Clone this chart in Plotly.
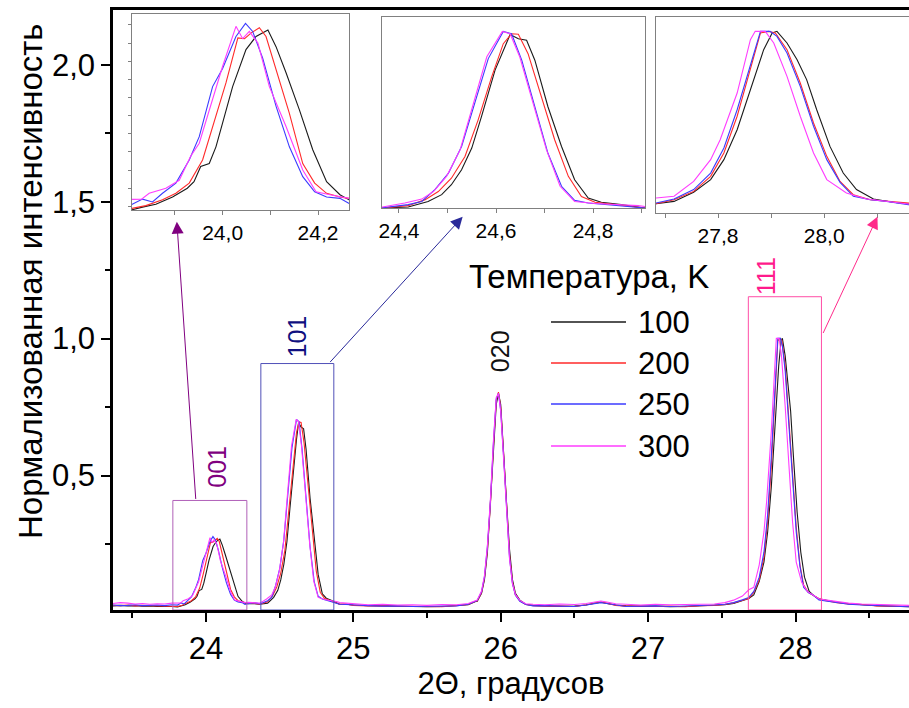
import plotly.graph_objects as go

# ---------------- data ----------------
temps = ["100", "200", "250", "300"]
colors = ["#1a1a1a", "#ff2a2a", "#3b3bff", "#ff3cff"]

# shared baseline x-grids
left_x = [23.37, 23.42, 23.47, 23.52, 23.57, 23.62, 23.67, 23.72, 23.77]
mid1_x = [24.29, 24.32, 24.345]
mid2_x = [24.95, 25.0, 25.1, 25.2, 25.3, 25.4, 25.5, 25.6, 25.7, 25.78, 25.83]
p020_x = [25.84, 25.87, 25.89, 25.91, 25.93, 25.95, 25.97, 25.985, 26.0, 26.02,
          26.04, 26.06, 26.08, 26.1, 26.13, 26.17]
mid3_x = [26.22, 26.3, 26.4, 26.5, 26.58, 26.64, 26.68, 26.72, 26.78, 26.85,
          26.95, 27.05, 27.15, 27.25, 27.35, 27.45, 27.52, 27.58, 27.64]
tail_x = [28.2, 28.28, 28.36, 28.45, 28.55, 28.65, 28.77]

# ---- 100 K ----
t100_left_y = [0.024, 0.026, 0.024, 0.025, 0.023, 0.024, 0.022, 0.023, 0.022]
t100_p001_x = [23.808, 23.832, 23.86, 23.895, 23.926, 23.94, 23.954, 23.972, 23.986, 24.0,
               24.021, 24.049, 24.07, 24.095, 24.112, 24.133, 24.161, 24.189, 24.218,
               24.246, 24.265]
t100_p001_y = [0.02, 0.024, 0.028, 0.038, 0.05, 0.059, 0.08, 0.084, 0.107, 0.14,
               0.19, 0.241, 0.259, 0.268, 0.245, 0.209, 0.158, 0.103, 0.059,
               0.041, 0.034]
t100_mid1_y = [0.032, 0.033, 0.031]
t100_p101_x = [24.366, 24.419, 24.46, 24.488, 24.508, 24.529, 24.55, 24.57, 24.598,
               24.615, 24.629, 24.646, 24.663, 24.68, 24.707, 24.735, 24.762, 24.79,
               24.817, 24.858, 24.907]
t100_p101_y = [0.03, 0.034, 0.055, 0.081, 0.119, 0.176, 0.259, 0.379, 0.557,
               0.633, 0.693, 0.677, 0.671, 0.595, 0.417, 0.265, 0.138, 0.068,
               0.052, 0.043, 0.03]
t100_mid2_y = [0.03, 0.027, 0.025, 0.024, 0.022, 0.023, 0.021, 0.022, 0.024, 0.028, 0.04]
t100_p020_y = [0.04, 0.07, 0.12, 0.22, 0.38, 0.58, 0.76, 0.80, 0.76, 0.6,
               0.4, 0.23, 0.12, 0.07, 0.045, 0.03]
t100_mid3_y = [0.026, 0.024, 0.022, 0.023, 0.027, 0.034, 0.037, 0.033, 0.027, 0.024,
               0.022, 0.023, 0.021, 0.022, 0.024, 0.025, 0.028, 0.033, 0.042]
t100_p111_x = [27.683, 27.717, 27.754, 27.786, 27.811, 27.836, 27.861, 27.886, 27.902,
               27.911, 27.93, 27.949, 27.967, 27.986, 28.011, 28.036, 28.061, 28.093,
               28.13, 28.159]
t100_p111_y = [0.051, 0.064, 0.114, 0.184, 0.294, 0.459, 0.68, 0.9, 0.992,
               1.001, 0.937, 0.845, 0.735, 0.569, 0.367, 0.22, 0.129, 0.077,
               0.059, 0.05]
t100_tail_y = [0.045, 0.037, 0.032, 0.028, 0.025, 0.023, 0.021]

# ---- 200 K ----
t200_left_y = [0.026, 0.025, 0.027, 0.024, 0.026, 0.025, 0.024, 0.025, 0.023]
t200_p001_x = [23.808, 23.839, 23.874, 23.902, 23.93, 23.958, 23.982, 24.007, 24.032,
               24.046, 24.06, 24.077, 24.091, 24.112, 24.14, 24.168, 24.193, 24.218,
               24.246, 24.265]
t200_p001_y = [0.022, 0.026, 0.034, 0.043, 0.057, 0.089, 0.14, 0.195, 0.257,
               0.256, 0.264, 0.271, 0.259, 0.213, 0.153, 0.084, 0.057, 0.043,
               0.038, 0.036]
t200_mid1_y = [0.034, 0.035, 0.033]
t200_p101_x = [24.366, 24.419, 24.454, 24.481, 24.508, 24.536, 24.563, 24.591, 24.615,
               24.632, 24.646, 24.666, 24.694, 24.721, 24.749, 24.776, 24.804, 24.845,
               24.907]
t200_p101_y = [0.03, 0.039, 0.062, 0.093, 0.144, 0.227, 0.366, 0.531, 0.658,
               0.696, 0.694, 0.62, 0.455, 0.29, 0.151, 0.074, 0.052, 0.043,
               0.03]
t200_mid2_y = [0.031, 0.026, 0.024, 0.025, 0.023, 0.022, 0.023, 0.021, 0.025, 0.029, 0.041]
t200_p020_y = [0.041, 0.072, 0.125, 0.23, 0.39, 0.6, 0.775, 0.805, 0.75, 0.58,
               0.38, 0.21, 0.11, 0.065, 0.042, 0.029]
t200_mid3_y = [0.025, 0.023, 0.024, 0.022, 0.028, 0.035, 0.038, 0.034, 0.026, 0.023,
               0.024, 0.022, 0.023, 0.021, 0.025, 0.026, 0.029, 0.035, 0.044]
t200_p111_x = [27.683, 27.717, 27.754, 27.786, 27.811, 27.836, 27.861, 27.88, 27.895,
               27.908, 27.93, 27.955, 27.98, 28.005, 28.03, 28.055, 28.087, 28.118,
               28.159]
t200_p111_y = [0.051, 0.073, 0.119, 0.202, 0.331, 0.533, 0.79, 0.992, 1.001,
               0.992, 0.9, 0.716, 0.496, 0.312, 0.174, 0.101, 0.073, 0.064,
               0.05]
t200_tail_y = [0.044, 0.036, 0.031, 0.029, 0.024, 0.022, 0.022]

# ---- 250 K ----
t250_left_y = [0.027, 0.025, 0.026, 0.028, 0.025, 0.026, 0.027, 0.025, 0.028]
t250_p001_x = [23.808, 23.832, 23.853, 23.874, 23.902, 23.93, 23.951, 23.979, 24.0,
               24.028, 24.048, 24.063, 24.084, 24.112, 24.14, 24.168, 24.193, 24.218,
               24.246, 24.265]
t250_p001_y = [0.027, 0.035, 0.031, 0.043, 0.057, 0.089, 0.121, 0.19, 0.215,
               0.259, 0.277, 0.266, 0.229, 0.163, 0.107, 0.066, 0.045, 0.038,
               0.036, 0.029]
t250_mid1_y = [0.033, 0.036, 0.034]
t250_p101_x = [24.366, 24.419, 24.447, 24.474, 24.502, 24.529, 24.556, 24.584, 24.615,
               24.632, 24.653, 24.68, 24.707, 24.735, 24.762, 24.79, 24.831, 24.907]
t250_p101_y = [0.031, 0.043, 0.055, 0.1, 0.163, 0.265, 0.43, 0.601, 0.705,
               0.696, 0.595, 0.417, 0.239, 0.113, 0.059, 0.049, 0.043, 0.03]
t250_mid2_y = [0.029, 0.027, 0.025, 0.023, 0.024, 0.022, 0.022, 0.023, 0.024, 0.03, 0.043]
t250_p020_y = [0.043, 0.075, 0.13, 0.24, 0.4, 0.61, 0.78, 0.80, 0.74, 0.57,
               0.37, 0.2, 0.105, 0.063, 0.041, 0.029]
t250_mid3_y = [0.024, 0.025, 0.023, 0.022, 0.027, 0.033, 0.036, 0.033, 0.027, 0.022,
               0.023, 0.024, 0.022, 0.023, 0.024, 0.027, 0.03, 0.036, 0.046]
t250_p111_x = [27.683, 27.717, 27.754, 27.786, 27.811, 27.836, 27.861, 27.88, 27.898,
               27.911, 27.93, 27.955, 27.98, 28.005, 28.03, 28.055, 28.087, 28.118,
               28.159]
t250_p111_y = [0.055, 0.077, 0.129, 0.22, 0.358, 0.569, 0.808, 1.001, 1.001,
               0.973, 0.882, 0.698, 0.478, 0.294, 0.169, 0.092, 0.073, 0.064,
               0.046]
t250_tail_y = [0.043, 0.035, 0.03, 0.027, 0.025, 0.022, 0.021]

# ---- 300 K ----
t300_left_y = [0.033, 0.036, 0.034, 0.031, 0.033, 0.03, 0.032, 0.031, 0.034]
t300_p001_x = [23.808, 23.83, 23.846, 23.881, 23.909, 23.933, 23.951, 23.975, 24.0,
               24.028, 24.042, 24.056, 24.074, 24.098, 24.133, 24.168, 24.196, 24.225,
               24.265]
t300_p001_y = [0.035, 0.035, 0.043, 0.05, 0.061, 0.094, 0.112, 0.163, 0.218,
               0.273, 0.256, 0.266, 0.25, 0.19, 0.135, 0.075, 0.045, 0.041,
               0.036]
t300_mid1_y = [0.037, 0.035, 0.036]
t300_p101_x = [24.366, 24.412, 24.447, 24.471, 24.498, 24.526, 24.553, 24.581, 24.613,
               24.629, 24.649, 24.677, 24.704, 24.732, 24.762, 24.804, 24.858, 24.893,
               24.907]
t300_p101_y = [0.034, 0.049, 0.064, 0.093, 0.151, 0.252, 0.43, 0.608, 0.705,
               0.696, 0.607, 0.43, 0.252, 0.113, 0.055, 0.047, 0.043, 0.039,
               0.036]
t300_mid2_y = [0.034, 0.031, 0.028, 0.03, 0.027, 0.028, 0.026, 0.029, 0.028, 0.033, 0.045]
t300_p020_y = [0.045, 0.078, 0.135, 0.245, 0.41, 0.62, 0.785, 0.80, 0.735, 0.56,
               0.36, 0.195, 0.105, 0.065, 0.044, 0.032]
t300_mid3_y = [0.03, 0.028, 0.031, 0.029, 0.033, 0.038, 0.042, 0.038, 0.032, 0.03,
               0.027, 0.03, 0.028, 0.029, 0.03, 0.031, 0.036, 0.045, 0.06]
t300_p111_x = [27.683, 27.717, 27.754, 27.786, 27.804, 27.836, 27.861, 27.87, 27.889,
               27.905, 27.93, 27.955, 27.98, 28.005, 28.042, 28.08, 28.118, 28.159]
t300_p111_y = [0.083, 0.092, 0.174, 0.294, 0.404, 0.661, 0.955, 1.001, 1.001,
               0.937, 0.753, 0.533, 0.331, 0.184, 0.11, 0.077, 0.064, 0.05]
t300_tail_y = [0.046, 0.039, 0.034, 0.031, 0.029, 0.027, 0.026]

# peak labels
peak_names = ["001", "101", "020", "111"]
peak_label_x = [24.07, 24.617, 26.0, 27.80]
peak_label_y = [0.533, 1.007, 0.953, 1.228]

# ---------------- assemble series ----------------
def series(left_y, p001_x, p001_y, mid1_y, p101_x, p101_y, mid2_y, p020_y, mid3_y,
           p111_x, p111_y, tail_y):
    xs = left_x + p001_x + mid1_x + p101_x + mid2_x + p020_x + mid3_x + p111_x + tail_x
    ys = left_y + p001_y + mid1_y + p101_y + mid2_y + p020_y + mid3_y + p111_y + tail_y
    return xs, ys

data = [
    series(t100_left_y, t100_p001_x, t100_p001_y, t100_mid1_y, t100_p101_x, t100_p101_y,
           t100_mid2_y, t100_p020_y, t100_mid3_y, t100_p111_x, t100_p111_y, t100_tail_y),
    series(t200_left_y, t200_p001_x, t200_p001_y, t200_mid1_y, t200_p101_x, t200_p101_y,
           t200_mid2_y, t200_p020_y, t200_mid3_y, t200_p111_x, t200_p111_y, t200_tail_y),
    series(t250_left_y, t250_p001_x, t250_p001_y, t250_mid1_y, t250_p101_x, t250_p101_y,
           t250_mid2_y, t250_p020_y, t250_mid3_y, t250_p111_x, t250_p111_y, t250_tail_y),
    series(t300_left_y, t300_p001_x, t300_p001_y, t300_mid1_y, t300_p101_x, t300_p101_y,
           t300_mid2_y, t300_p020_y, t300_mid3_y, t300_p111_x, t300_p111_y, t300_tail_y),
]

FONT = "Liberation Sans, Arial, sans-serif"
fig = go.Figure()

axes_pairs = [("x", "y"), ("x2", "y2"), ("x3", "y3"), ("x4", "y4")]
for (xs, ys), name, col in zip(data, temps, colors):
    for xa, ya in axes_pairs:
        fig.add_trace(go.Scatter(x=xs, y=ys, mode="lines", name=name,
                                 line=dict(color=col, width=1.1),
                                 xaxis=xa, yaxis=ya, showlegend=False,
                                 hoverinfo="skip"))

W, H = 909, 708
ML, MR, MT, MB = 113, 0, 10, 98
PW, PH = W - ML - MR, H - MT - MB


def px_x(p):
    return (p - ML) / PW


def px_y(p):
    return (H - MB - p) / PH


main_axis_common = dict(showgrid=False, zeroline=False, showline=True,
                        linecolor="black", linewidth=2.5, ticks="outside",
                        ticklen=9, tickwidth=2, tickcolor="black",
                        tickfont=dict(family=FONT, size=31, color="black"))

inset_x_common = dict(showgrid=False, zeroline=False, showline=True, mirror=True,
                      linecolor="#808080", linewidth=1, ticks="outside", ticklen=4,
                      tickcolor="#808080", tickwidth=1, dtick=0.1, ticklabelstep=2,
                      tickformat=".1f",
                      tickfont=dict(family=FONT, size=21, color="black"))
inset_y_common = dict(showgrid=False, zeroline=False, showline=True, mirror=True,
                      linecolor="#808080", linewidth=1, showticklabels=False)

fig.update_layout(
    width=W, height=H, autosize=False,
    margin=dict(l=ML, r=MR, t=MT, b=MB, pad=0),
    paper_bgcolor="white", plot_bgcolor="white",
    separators=", ",
    font=dict(family=FONT, color="black"),
    xaxis=dict(**main_axis_common, range=[23.37, 28.77], domain=[0, 1],
               tick0=24, dtick=1, mirror=True,
               minor=dict(dtick=0.5, tick0=23.5, ticks="outside", ticklen=5,
                          tickwidth=2, tickcolor="black"),
               title=dict(text="2Θ, градусов", standoff=8,
                          font=dict(family=FONT, size=31))),
    yaxis=dict(**main_axis_common, range=[0.009, 2.2], domain=[0, 1],
               tick0=0, dtick=0.5, tickformat=".1f",
               minor=dict(dtick=0.25, tick0=0, ticks="outside", ticklen=5,
                          tickwidth=2, tickcolor="black")),
    xaxis2=dict(**inset_x_common, range=[23.81, 24.265], tick0=24.0, anchor="y2",
                domain=[px_x(132), px_x(349)]),
    yaxis2=dict(**inset_y_common, range=[0.02, 0.29], anchor="x2",
                ticks="outside", ticklen=3, tickcolor="#808080", dtick=0.025, tick0=0,
                domain=[px_y(210), px_y(14)]),
    xaxis3=dict(**inset_x_common, range=[24.365, 24.907], tick0=24.4, anchor="y3",
                domain=[px_x(382), px_x(645)]),
    yaxis3=dict(**inset_y_common, range=[0.03, 0.76], anchor="x3", ticks="",
                domain=[px_y(208), px_y(17)]),
    xaxis4=dict(**inset_x_common, range=[27.683, 28.16], tick0=27.8, anchor="y4",
                domain=[px_x(656), 1.0]),
    yaxis4=dict(**inset_y_common, range=[0.0, 1.08], anchor="x4", ticks="",
                domain=[px_y(213), px_y(17)]),
)

# y axis title (placed as in the reference, above the axis centre)
fig.add_annotation(x=px_x(30), y=px_y(281), xref="paper", yref="paper",
                   text="Нормализованная интенсивность", showarrow=False,
                   textangle=-90, xanchor="center", yanchor="middle",
                   font=dict(family=FONT, size=33, color="black"))

# zoom boxes
boxes = [
    (23.776, 24.278, 0.409, "#b060b8"),
    (24.373, 24.868, 0.909, "#5050b8"),
    (27.68, 28.176, 1.153, "#ff4da6"),
]
for x0, x1, y1, col in boxes:
    fig.add_shape(type="rect", xref="x", yref="y", x0=x0, x1=x1, y0=0.009, y1=y1,
                  line=dict(color=col, width=1), fillcolor="rgba(0,0,0,0)")

# arrows to insets (head x,y ; tail ax,ay)
arrows = [
    (23.803, 1.427, 23.932, 0.409, "#800080"),
    (25.742, 1.445, 24.834, 0.909, "#2a2a9a"),
    (28.556, 1.445, 28.183, 1.015, "#ff2a8a"),
]
for hx, hy, tx, ty, col in arrows:
    fig.add_annotation(x=hx, y=hy, ax=tx, ay=ty, xref="x", yref="y",
                       axref="x", ayref="y", text="", showarrow=True,
                       arrowhead=2, arrowsize=2.4, arrowwidth=1, arrowcolor=col)

# peak labels
label_colors = ["#800080", "#101080", "#111111", "#ff1a8c"]
for name, lx, ly, col in zip(peak_names, peak_label_x, peak_label_y, label_colors):
    fig.add_annotation(x=lx, y=ly, xref="x", yref="y", text=name, showarrow=False,
                       textangle=-90, yanchor="middle", xanchor="center",
                       font=dict(family=FONT, size=25, color=col))

# legend (drawn manually to match the long sample lines)
fig.add_annotation(x=px_x(589), y=px_y(276), xref="paper", yref="paper",
                   text="Температура, K", showarrow=False,
                   xanchor="center", yanchor="middle",
                   font=dict(family=FONT, size=33, color="black"))
leg_y = [322, 363, 404, 446]
for name, col, yy in zip(temps, colors, leg_y):
    fig.add_shape(type="line", xref="paper", yref="paper",
                  x0=px_x(551), x1=px_x(626), y0=px_y(yy), y1=px_y(yy),
                  line=dict(color=col, width=1.5))
    fig.add_annotation(x=px_x(636), y=px_y(yy), xref="paper", yref="paper",
                       text=name, showarrow=False, xanchor="left", yanchor="middle",
                       font=dict(family=FONT, size=31, color="black"))

fig.write_html("out.html")
